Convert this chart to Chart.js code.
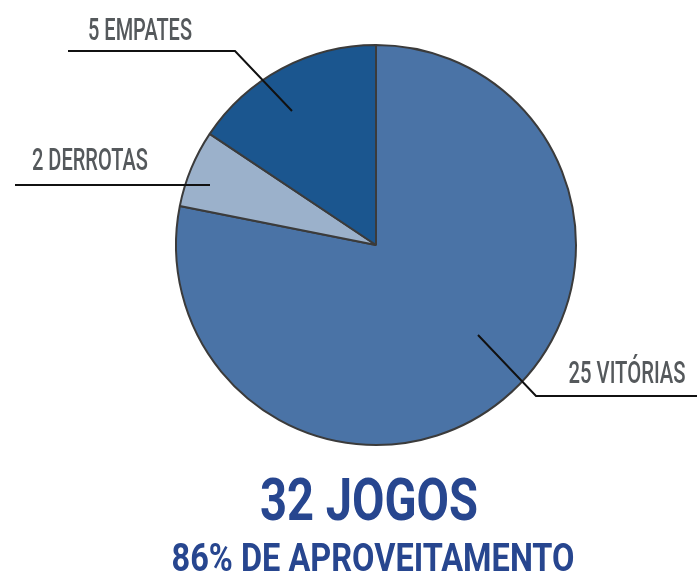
<!DOCTYPE html>
<html lang="pt">
<head>
<meta charset="UTF-8">
<title>32 jogos</title>
<script src="https://cdn.jsdelivr.net/npm/chart.js"></script>
<style>
  html, body { margin: 0; padding: 0; background: #fff; }
  #wrap { width: 697px; height: 574px; }
</style>
</head>
<body>
<div id="wrap"><canvas id="pie"></canvas></div>
<script>
// dados
const categorias = ['VITÓRIAS', 'DERROTAS', 'EMPATES'];
const jogos = [25, 2, 5];
const cores = ['#4a73a6', '#9bb1cb', '#1b568f'];
const titulo = '32 JOGOS';
const subtitulo = '86% DE APROVEITAMENTO';

// texto estreito: desenha e comprime na horizontal até a largura desejada
function textoEstreito(ctx, txt, cx, baseY, largura, size, weight, cor) {
  ctx.save();
  ctx.font = weight + ' ' + size + 'px Roboto';
  ctx.fillStyle = cor;
  ctx.textAlign = 'center';
  ctx.textBaseline = 'alphabetic';
  const w = ctx.measureText(txt).width;
  ctx.translate(cx, baseY);
  ctx.scale(largura / w, 1);
  ctx.fillText(txt, 0, 0);
  ctx.restore();
}

// rótulos com linhas de chamada (pontos relativos ao centro da pizza)
const chamadas = [
  { linha: [[102, 90], [160, 151], [321, 151]], texto: [251, 138], largura: 117 },
  { linha: [[-166, -60], [-361, -60]], texto: [-286, -75], largura: 116 },
  { linha: [[-84, -134], [-141, -194], [-308, -194]], texto: [-236, -205], largura: 104 }
];

const rotulos = {
  id: 'rotulos',
  afterDraw(chart) {
    const ctx = chart.ctx;
    const arc = chart.getDatasetMeta(0).data[0];
    const cx = arc.x, cy = arc.y;
    chamadas.forEach((c, i) => {
      ctx.save();
      ctx.strokeStyle = '#111';
      ctx.lineWidth = 2;
      ctx.beginPath();
      c.linha.forEach((p, j) => {
        if (j === 0) ctx.moveTo(cx + p[0], cy + p[1]);
        else ctx.lineTo(cx + p[0], cy + p[1]);
      });
      ctx.stroke();
      ctx.restore();
      textoEstreito(ctx, jogos[i] + ' ' + categorias[i], cx + c.texto[0], cy + c.texto[1], c.largura, 31, '500', '#55595c');
    });
    textoEstreito(ctx, titulo, 369, 520, 218, 59, '700', '#27468f');
    textoEstreito(ctx, subtitulo, 373, 571, 403, 38, '700', '#27468f');
  }
};

new Chart(document.getElementById('pie'), {
  type: 'pie',
  data: {
    labels: categorias,
    datasets: [{
      data: jogos,
      backgroundColor: cores,
      borderColor: '#3b3b3b',
      borderWidth: 2,
      borderAlign: 'center'
    }]
  },
  options: {
    responsive: true,
    maintainAspectRatio: false,
    animation: false,
    layout: { padding: { left: 175, right: 120, top: 44, bottom: 128 } },
    plugins: {
      legend: { display: false },
      tooltip: { enabled: false }
    }
  },
  plugins: [rotulos]
});
</script>
</body>
</html>
